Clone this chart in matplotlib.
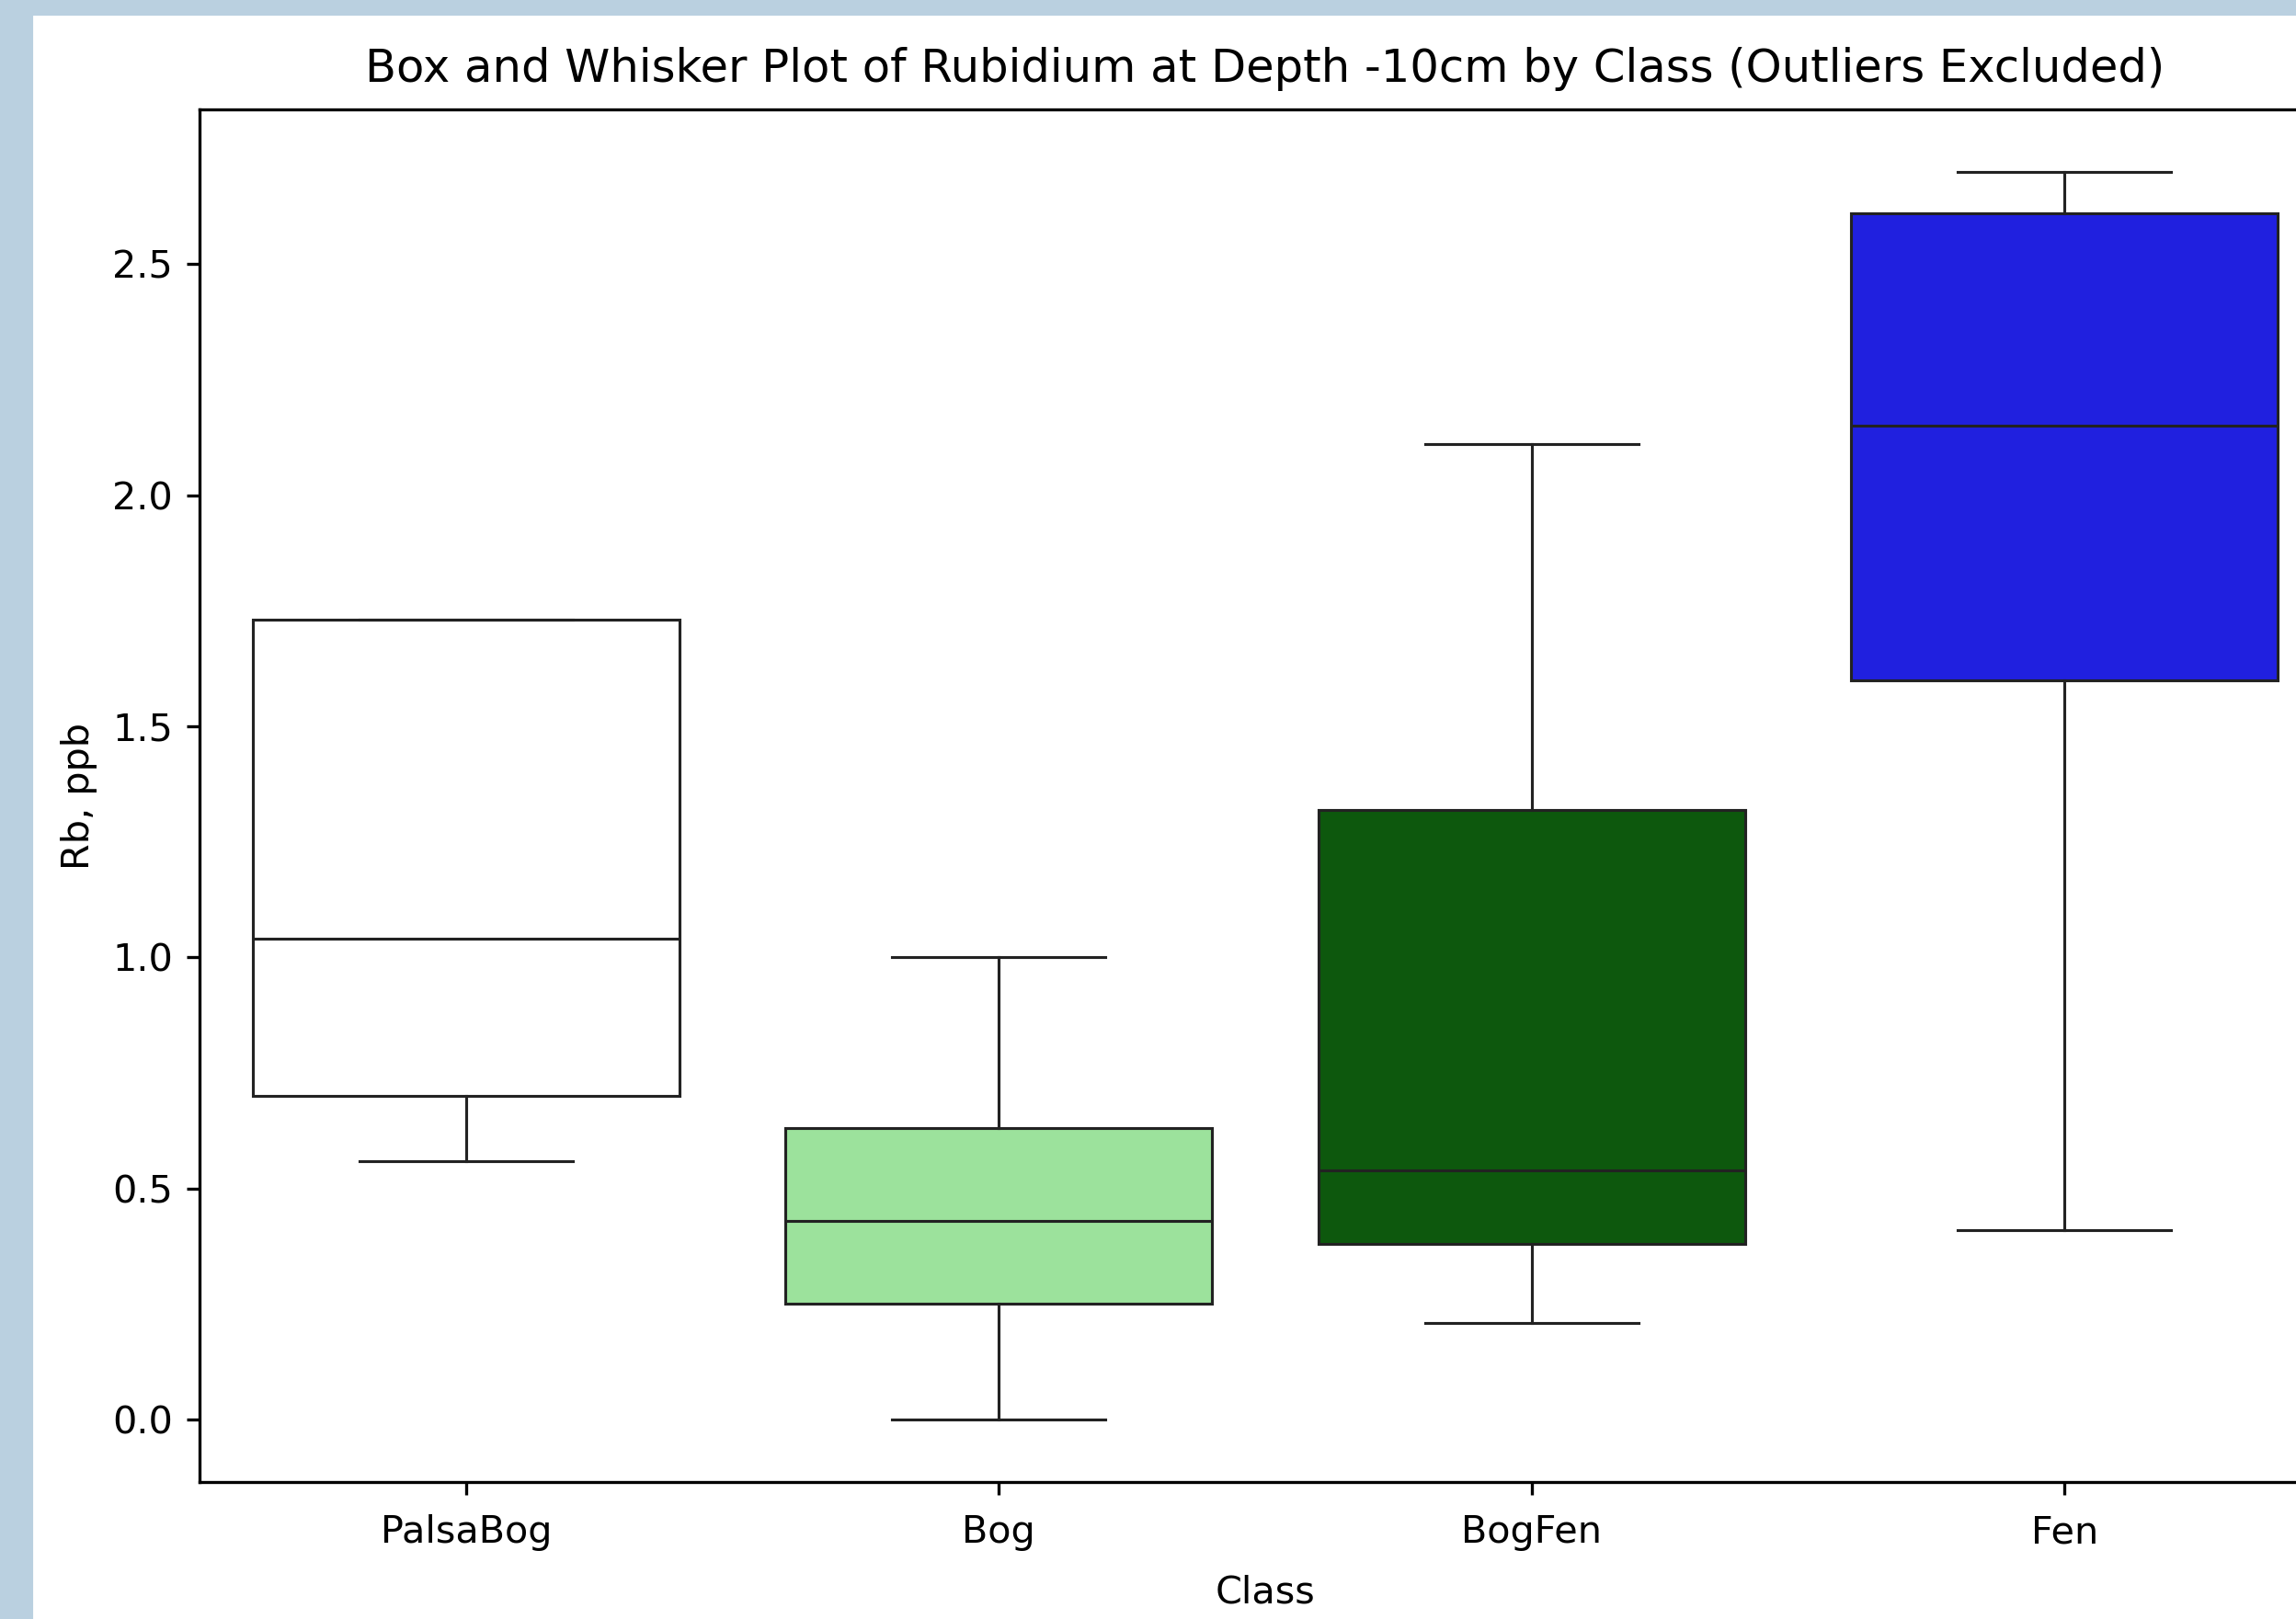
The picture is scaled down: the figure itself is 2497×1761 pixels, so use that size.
import matplotlib
matplotlib.use("Agg")
import matplotlib.pyplot as plt
from matplotlib.patches import Rectangle

classes = ['PalsaBog', 'Bog', 'BogFen', 'Fen']
whisker_low = [0.56, 0.00, 0.21, 0.41]
q1 = [0.70, 0.25, 0.38, 1.60]
median = [1.04, 0.43, 0.54, 2.15]
q3 = [1.73, 0.63, 1.32, 2.61]
whisker_high = [1.73, 1.00, 2.11, 2.70]
colors = ['#ffffff', '#9ce29c', '#0d580d', '#2020df']

W, H, DPI = 2497, 1761, 298
fig = plt.figure(figsize=(W / DPI, H / DPI), dpi=DPI, facecolor='white')

# screenshot border (left and top strips)
border = '#bad0e0'
fig.patches.append(Rectangle((0, 0), 34 / W, 1, transform=fig.transFigure, color=border, zorder=-1))
fig.patches.append(Rectangle((0, 1 - 15 / H), 1, 15 / H, transform=fig.transFigure, color=border, zorder=-1))

# axes runs past the right edge, like the cropped screenshot
ax = fig.add_axes([217 / W, (H - 1612) / H, (2535 - 217) / W, (1612 - 119) / H])

stats = []
for i, name in enumerate(classes):
    stats.append({'label': name, 'whislo': whisker_low[i], 'q1': q1[i], 'med': median[i],
                  'q3': q3[i], 'whishi': whisker_high[i], 'fliers': []})

line = '#222222'
lw = 0.75
bp = ax.bxp(stats, positions=range(len(classes)), widths=0.8, capwidths=0.4,
            patch_artist=True, showfliers=False,
            boxprops=dict(edgecolor=line, linewidth=lw),
            medianprops=dict(color=line, linewidth=lw),
            whiskerprops=dict(color=line, linewidth=lw),
            capprops=dict(color=line, linewidth=lw))
for patch, c in zip(bp['boxes'], colors):
    patch.set_facecolor(c)

ax.set_xlim(-0.5, 3.5)
ax.set_ylim(-0.135, 2.835)
ax.set_yticks([0.0, 0.5, 1.0, 1.5, 2.0, 2.5])
ax.set_xticks(range(len(classes)))
ax.set_xticklabels(classes)
ax.tick_params(axis='x', pad=5)
ax.set_xlabel('Class', labelpad=6)
ax.set_ylabel('Rb, ppb')
ax.set_title('Box and Whisker Plot of Rubidium at Depth -10cm by Class (Outliers Excluded)', pad=7.2)

fig.savefig('out.png', dpi=DPI)
